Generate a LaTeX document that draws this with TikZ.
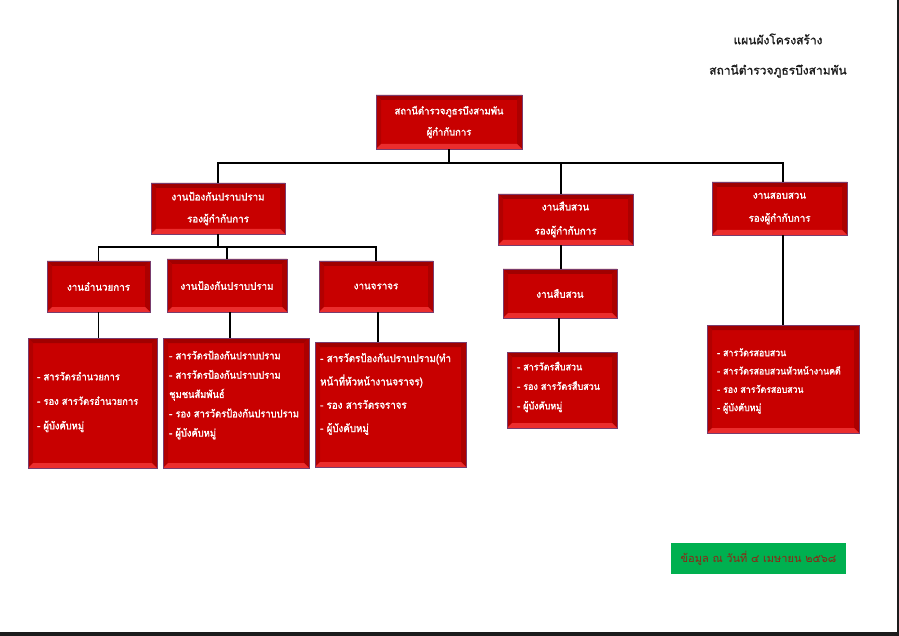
\documentclass[tikz,border=0pt]{standalone}
\usepackage{fontspec}
\newfontfamily\thai[Script=Thai]{Loma}
\newfontfamily\thaihead[Script=Thai, FakeBold=1.6, FakeStretch=0.95]{Loma}
\newfontfamily\thailist[Script=Thai, FakeBold=1.6, FakeStretch=0.9]{Loma}
\newfontfamily\thaititle[Script=Thai, FakeBold=1.4]{Loma}
\usetikzlibrary{calc}
\definecolor{boxred}{RGB}{200,0,0}
\definecolor{boxedge}{RGB}{120,60,110}
\definecolor{bvtop}{RGB}{160,0,0}
\definecolor{bvleft}{RGB}{178,0,0}
\definecolor{bvright}{RGB}{172,0,0}
\definecolor{bvbot}{RGB}{235,45,45}
\definecolor{dategreen}{RGB}{0,176,80}
\definecolor{datetext}{RGB}{145,35,20}
\definecolor{titletext}{RGB}{30,30,30}
\definecolor{frame}{RGB}{28,28,28}
\def\bv{5pt}
\tikzset{
  bevelbox/.style={fill=boxred, draw=boxedge, line width=0.8pt, inner sep=0pt,
    text=white, align=center,
    font=\thaihead\fontsize{10.3}{22}\selectfont,
    path picture={
      \fill[bvtop] (path picture bounding box.north west) -- (path picture bounding box.north east)
        -- ([shift={(-\bv,-\bv)}]path picture bounding box.north east) -- ([shift={(\bv,-\bv)}]path picture bounding box.north west) -- cycle;
      \fill[bvleft] (path picture bounding box.north west) -- (path picture bounding box.south west)
        -- ([shift={(\bv,\bv)}]path picture bounding box.south west) -- ([shift={(\bv,-\bv)}]path picture bounding box.north west) -- cycle;
      \fill[bvright] (path picture bounding box.north east) -- (path picture bounding box.south east)
        -- ([shift={(-\bv,\bv)}]path picture bounding box.south east) -- ([shift={(-\bv,-\bv)}]path picture bounding box.north east) -- cycle;
      \fill[bvbot] (path picture bounding box.south west) -- (path picture bounding box.south east)
        -- ([shift={(-\bv,\bv)}]path picture bounding box.south east) -- ([shift={(\bv,\bv)}]path picture bounding box.south west) -- cycle;
    }},
  listtext/.style={anchor=west, inner sep=0pt, text=white, align=left},
  link/.style={draw=black, line width=1.3pt},
  titlestyle/.style={text=titletext, font=\thaititle\fontsize{12}{14}\selectfont, inner sep=0pt}
}
\begin{document}
\begin{tikzpicture}[x=1pt,y=-1pt]
\useasboundingbox (0,0) rectangle (899,636);
\fill[white] (0,0) rectangle (899,636);
\fill[frame] (897,0) rectangle (899,636);
\fill[frame] (0,632) rectangle (899,636);

% titles
\node[titlestyle] (t1) at (778,39) {แผนผังโครงสร้าง};
\node[titlestyle] (t2) at (778,71) {สถานีตำรวจภูธรบึงสามพัน};

% level 1
\node[bevelbox, minimum width=146, minimum height=54, font=\thaihead\fontsize{10}{21}\selectfont] (top) at (449,122) {สถานีตำรวจภูธรบึงสามพัน\\ผู้กำกับการ};
% level 2
\node[bevelbox, minimum width=134, minimum height=51] (A) at (218,208.5) {งานป้องกันปราบปราม\\รองผู้กำกับการ};
\node[bevelbox, minimum width=135, minimum height=51, font=\thaihead\fontsize{10.3}{24}\selectfont] (B) at (565.5,219.5) {งานสืบสวน\\รองผู้กำกับการ};
\node[bevelbox, minimum width=135, minimum height=53, font=\thaihead\fontsize{10.3}{23}\selectfont] (C) at (779.5,208.5) {งานสอบสวน\\รองผู้กำกับการ};
% level 3
\node[bevelbox, minimum width=103, minimum height=51] (D1) at (98.5,286.5) {งานอำนวยการ};
\node[bevelbox, minimum width=120, minimum height=53] (D2) at (227,285.5) {งานป้องกันปราบปราม};
\node[bevelbox, minimum width=114, minimum height=51] (D3) at (376,286.5) {งานจราจร};
\node[bevelbox, minimum width=114, minimum height=49] (B2) at (560,293.5) {งานสืบสวน};
% lists
\node[bevelbox, minimum width=129, minimum height=130] (L1) at (92.5,403) {};
\node[bevelbox, minimum width=146, minimum height=130] (L2) at (236,403) {};
\node[bevelbox, minimum width=151, minimum height=125] (L3) at (390.5,404.5) {};
\node[bevelbox, minimum width=110, minimum height=76] (L4) at (562,390) {};
\node[bevelbox, minimum width=152, minimum height=108] (L5) at (783,379) {};

\node[listtext, font=\thailist\fontsize{10.4}{24.5}\selectfont] (L1t) at (37,402)
  {- สารวัตรอำนวยการ\\- รอง สารวัตรอำนวยการ\\- ผู้บังคับหมู่};
\node[listtext, font=\thailist\fontsize{10.4}{19.3}\selectfont] (L2t) at (169,395)
  {- สารวัตรป้องกันปราบปราม\\- สารวัตรป้องกันปราบปราม\\ชุมชนสัมพันธ์\\- รอง สารวัตรป้องกันปราบปราม\\- ผู้บังคับหมู่};
\node[listtext, font=\thailist\fontsize{10.8}{23.3}\selectfont] (L3t) at (320,394)
  {- สารวัตรป้องกันปราบปราม(ทำ\\หน้าที่หัวหน้างานจราจร)\\- รอง สารวัตรจราจร\\- ผู้บังคับหมู่};
\node[listtext, font=\thailist\fontsize{10}{19.5}\selectfont] (L4t) at (517,387)
  {- สารวัตรสืบสวน\\- รอง สารวัตรสืบสวน\\- ผู้บังคับหมู่};
\node[listtext, font=\thailist\fontsize{9.8}{18.3}\selectfont] (L5t) at (717,381)
  {- สารวัตรสอบสวน\\- สารวัตรสอบสวนหัวหน้างานคดี\\- รอง สารวัตรสอบสวน\\- ผู้บังคับหมู่};

% date box
\node[fill=dategreen, minimum width=175, minimum height=31, inner sep=0pt,
  text=datetext, font=\thai\fontsize{11}{13}\selectfont] (date) at (758.5,558.5) {ข้อมูล ณ วันที่ ๔ เมษายน ๒๕๖๘};

% connectors
\coordinate (bar1) at (449,163);
\coordinate (bar2) at (218,247);
\draw[link] (top.south) -- (top.south |- bar1);
\draw[link] (A.north) |- (bar1) -| (L5.north |- C.north);
\draw[link] ($(B.north)+(-4.5,0)$) -- ($(B.north |- bar1)+(-4.5,0)$);
\draw[link] (A.south) -- (A.south |- bar2);
\draw[link] (D1.north) |- (bar2) -| (D3.north);
\draw[link] (D2.north) -- (D2.north |- bar2);
\draw[link] ($(B.south)+(-4.5,0)$) -- ($(B.south |- B2.north)+(-4.5,0)$);
\draw[link] (D1.south) -- (D1.south |- L1.north);
\draw[link] ($(D2.south)+(3,0)$) -- ($(D2.south |- L2.north)+(3,0)$);
\draw[link] ($(D3.south)+(2,0)$) -- ($(D3.south |- L3.north)+(2,0)$);
\draw[link] ($(B2.south)+(-1,0)$) -- ($(B2.south |- L4.north)+(-1,0)$);
\draw[link] (L5.north |- C.south) -- (L5.north);
\end{tikzpicture}
\end{document}
